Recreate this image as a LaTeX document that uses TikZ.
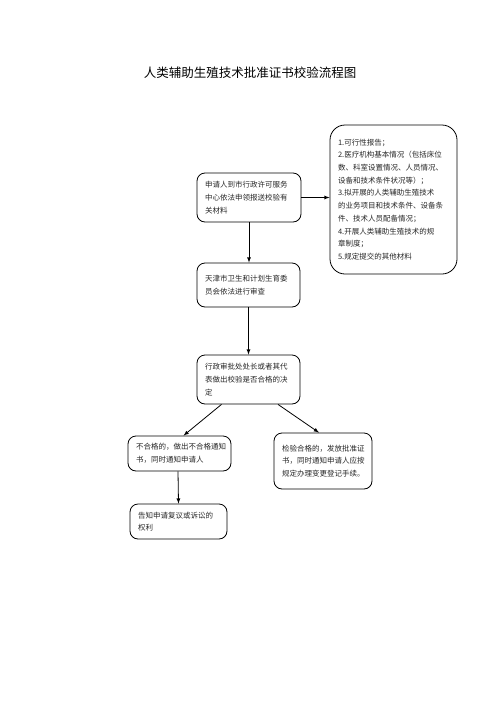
\documentclass[tikz,border=0pt]{standalone}
\usepackage{fontspec}
\setmainfont{Noto Sans CJK SC}
\begin{document}
\begin{tikzpicture}[x=1pt, y=-1pt, >=latex,
    box/.style = {draw, line width=0.8pt, rounded corners=8pt, align=left,
                  inner xsep=8pt, inner ysep=2pt, text=black!85,
                  font=\fontsize{7.5}{12.7}\selectfont},
    arr/.style = {->, line width=0.8pt}]
  \useasboundingbox (0, 0) rectangle (500, 707);
  \node (title) at (250, 73) {\fontsize{12.5}{14}\selectfont 人类辅助生殖技术批准证书校验流程图};
  \node [box, text width=88pt, minimum height=49pt] (apply) at (249, 197.5)
    {申请人到市行政许可服务\\中心依法申领报送校验有\\关材料};
  \node [box, text width=111pt, minimum height=149pt, rounded corners=15pt] (files) at (393.5, 199.5)
    {1.可行性报告；\\2.医疗机构基本情况（包括床位\\数、科室设置情况、人员情况、\\设备和技术条件状况等）；\\3.拟开展的人类辅助生殖技术\\的业务项目和技术条件、设备条\\件、技术人员配备情况；\\4.开展人类辅助生殖技术的规\\章制度；\\5.规定提交的其他材料};
  \node [box, text width=87pt, minimum height=44pt] (review) at (248.5, 285)
    {天津市卫生和计划生育委\\员会依法进行审查};
  \node [box, text width=87pt, minimum height=49pt] (decide) at (248.5, 379.5)
    {行政审批处处长或者其代\\表做出校验是否合格的决\\定};
  \node [box, text width=87pt, minimum height=35pt] (fail) at (179.5, 453.5)
    {不合格的，做出不合格通知\\书，同时通知申请人};
  \node [box, text width=82pt, minimum height=56pt] (pass) at (323, 461)
    {检验合格的，发放批准证\\书，同时通知申请人应按\\规定办理变更登记手续。};
  \node [box, text width=81pt, minimum height=35pt] (appeal) at (178.5, 521.5)
    {告知申请复议或诉讼的\\权利};
  \draw [arr] (apply.east) -- (apply.east -| files.west);
  \draw [arr] (apply.south) -- (apply.south |- review.north);
  \draw [arr] (review.south) -- (decide.north);
  \draw [arr] ([xshift=-27pt]decide.south) -- ([xshift=4pt]fail.north);
  \draw [arr] ([xshift=29.5pt]decide.south) -- ([xshift=-4pt]pass.north);
  \draw [arr] ([xshift=-1.5pt]fail.south) -- (appeal.north);
\end{tikzpicture}
\end{document}
